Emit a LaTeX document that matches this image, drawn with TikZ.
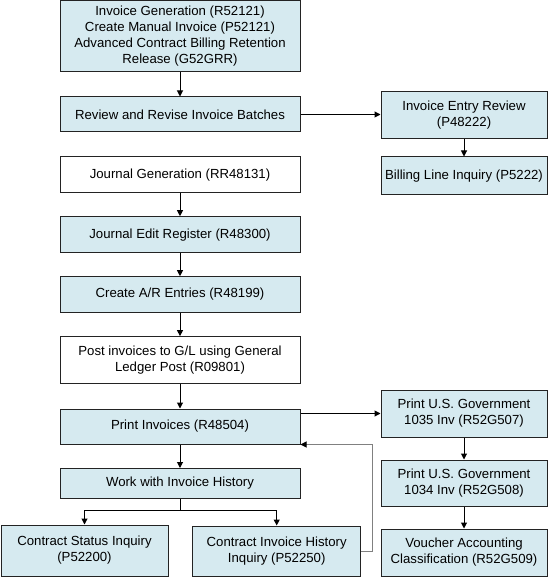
\documentclass[tikz,border=0pt]{standalone}
\usepackage{fontspec}
\setmainfont{Liberation Sans}
\usetikzlibrary{arrows.meta}

\definecolor{boxblue}{RGB}{214,234,240}
\definecolor{boxline}{RGB}{35,35,35}
\definecolor{backline}{RGB}{128,128,128}

\tikzset{every picture/.style={line width=0.75pt}}
\tikzset{
  bluebox/.style={draw=boxline, fill=boxblue, inner sep=0pt, align=center, font=\fontsize{9.9}{12}\selectfont},
  whitebox/.style={draw=boxline, fill=white, inner sep=0pt, align=center, font=\fontsize{9.9}{12}\selectfont},
  arr/.style={draw=black, -{Triangle[length=4.5pt,width=4.5pt]}},
  backarr/.style={draw=backline, -{Triangle[length=4.5pt,width=4.5pt,color=black]}}
}

\begin{document}
\begin{tikzpicture}[x=0.75pt,y=0.75pt,yscale=-1,xscale=1]
\useasboundingbox (0,0) rectangle (550,577);

%Shape: Rectangle - left column
\node [bluebox, minimum width=180pt, minimum height=53.25pt] (invgen) at (180,36.5) {Invoice Generation (R52121)\\Create Manual Invoice (P52121)\\Advanced Contract Billing Retention\\Release (G52GRR)};
\node [bluebox, minimum width=180pt, minimum height=26.25pt] (review) at (180,114.5) {Review and Revise Invoice Batches};
\node [whitebox, minimum width=180pt, minimum height=26.6pt] (jgen) at (180,174.7) {Journal Generation (RR48131)};
\node [bluebox, minimum width=180pt, minimum height=27pt] (jedit) at (180,234.7) {Journal Edit Register (R48300)};
\node [bluebox, minimum width=180pt, minimum height=26.7pt] (arent) at (180,294.5) {Create A/R Entries (R48199)};
\node [whitebox, minimum width=180pt, minimum height=35.5pt] (post) at (180,360.3) {Post invoices to G/L using General\\Ledger Post (R09801)};
\node [bluebox, minimum width=180pt, minimum height=26.25pt] (prinv) at (180,426.5) {Print Invoices (R48504)};
\node [bluebox, minimum width=180pt, minimum height=22.5pt] (wih) at (180,483.5) {Work with Invoice History};

%Shape: Rectangle - bottom row
\node [bluebox, minimum width=125.25pt, minimum height=38.25pt] (cstat) at (84.5,550.5) {Contract Status Inquiry\\(P52200)};
\node [bluebox, minimum width=126.4pt, minimum height=37.5pt] (cinvh) at (276.7,551) {Contract Invoice History\\Inquiry (P52250)};

%Shape: Rectangle - right column
\node [bluebox, minimum width=124.5pt, minimum height=35.6pt] (entrev) at (464,114.8) {Invoice Entry Review\\(P48222)};
\node [bluebox, minimum width=124.5pt, minimum height=28.5pt] (billing) at (464,176) {Billing Line Inquiry (P5222)};
\node [bluebox, minimum width=124.5pt, minimum height=35.25pt] (gov1035) at (464,413.5) {Print U.S. Government\\1035 Inv (R52G507)};
\node [bluebox, minimum width=124.5pt, minimum height=34.5pt] (gov1034) at (464,483) {Print U.S. Government\\1034 Inv (R52G508)};
\node [bluebox, minimum width=124.5pt, minimum height=35.25pt] (voucher) at (464,552.5) {Voucher Accounting\\Classification (R52G509)};

%Straight Lines
\draw [arr] (invgen) -- (review);
\draw [arr] (review.east) -- (entrev.west |- review.east);
\draw [arr] (entrev) -- (billing);
\draw [arr] (jgen) -- (jedit);
\draw [arr] (jedit) -- (arent);
\draw [arr] (arent) -- (post);
\draw [arr] (post) -- (prinv);
\draw [arr] (prinv) -- (wih);
\draw [arr] (prinv.east |- gov1035.west) -- (gov1035.west);
\draw [arr] (gov1035) -- (gov1034);
\draw [arr] (gov1034) -- (voucher);

%Straight Lines - branch
\draw (wih.south) -- ++(0,11.5) coordinate (split);
\draw [arr] (split) -| (cstat.north);
\draw [arr] (split) -| (cinvh.north);

%Straight Lines - back to print invoices
\draw [backarr] (cinvh.east) -- ++(11,0) |- (prinv.south east);

\end{tikzpicture}
\end{document}
